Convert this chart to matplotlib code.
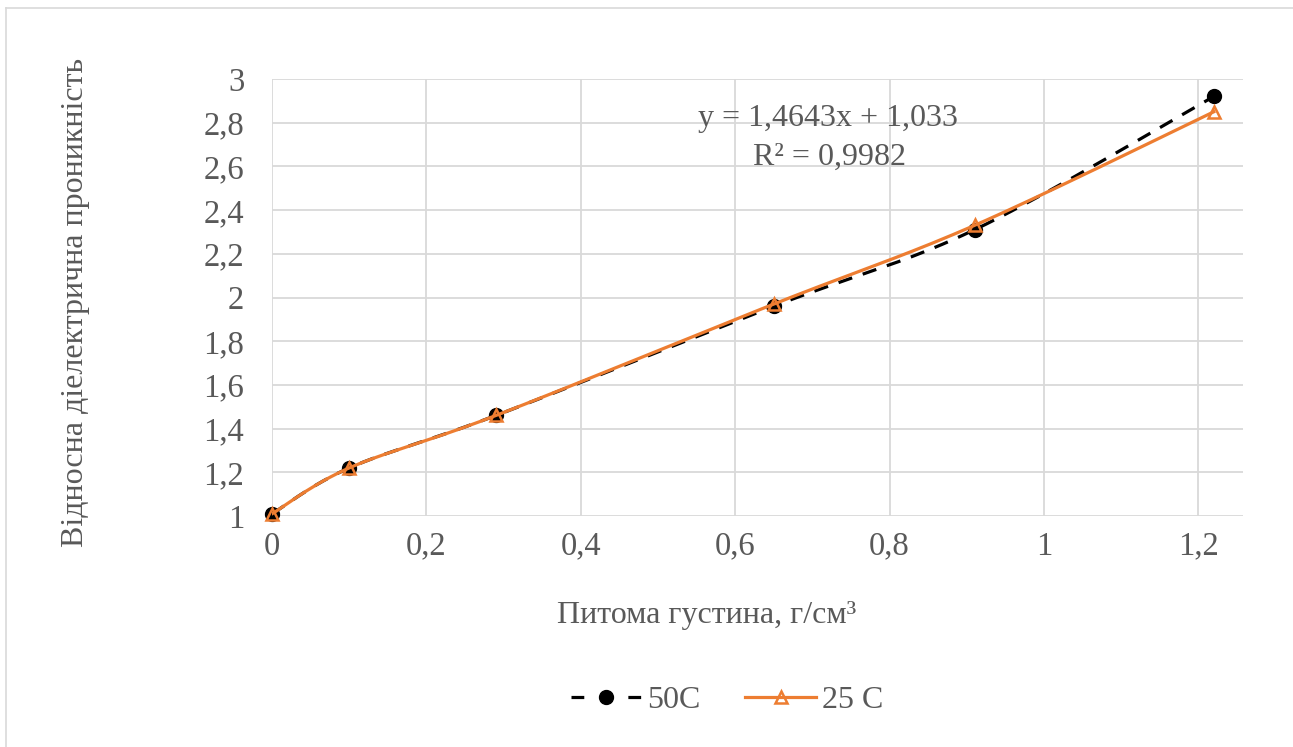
import numpy as np
import matplotlib
matplotlib.use('Agg')
from matplotlib import pyplot as plt
from matplotlib.lines import Line2D

# Питома густина, г/см3
x_vals = [0.0, 0.10, 0.29, 0.65, 0.91, 1.22]
# Відносна діелектрична проникність
eps_50 = [1.01, 1.22, 1.46, 1.96, 2.31, 2.92]
eps_25 = [1.01, 1.22, 1.46, 1.97, 2.33, 2.85]

x_ticks = [0, 0.2, 0.4, 0.6, 0.8, 1.0, 1.2]
y_ticks = [1, 1.2, 1.4, 1.6, 1.8, 2, 2.2, 2.4, 2.6, 2.8, 3]

equation = 'y = 1,4643x + 1,033'
r_squared = 'R² = 0,9982'

ORANGE = '#ED7D31'
TEXT = '#595959'
GRID = '#D9D9D9'

plt.rcParams['font.family'] = ['Liberation Serif', 'DejaVu Serif']


def smooth(xs, ys, n=40):
    # згладжена крива (кубічні Безьє, як у Excel)
    xs = np.asarray(xs, float)
    ys = np.asarray(ys, float)
    px = np.concatenate([[xs[0]], xs, [xs[-1]]])
    py = np.concatenate([[ys[0]], ys, [ys[-1]]])
    out_x, out_y = [], []
    t = np.linspace(0, 1, n)
    for i in range(1, len(px) - 2):
        p0 = np.array([px[i], py[i]])
        p3 = np.array([px[i + 1], py[i + 1]])
        c1 = p0 + (np.array([px[i + 1], py[i + 1]]) - np.array([px[i - 1], py[i - 1]])) / 6
        c2 = p3 - (np.array([px[i + 2], py[i + 2]]) - np.array([px[i], py[i]])) / 6
        b = ((1 - t) ** 3)[:, None] * p0 + (3 * (1 - t) ** 2 * t)[:, None] * c1 \
            + (3 * (1 - t) * t ** 2)[:, None] * c2 + (t ** 3)[:, None] * p3
        out_x.extend(b[:, 0])
        out_y.extend(b[:, 1])
    return out_x, out_y


def fmt(v):
    return ('%g' % v).replace('.', ',')


fig = plt.figure(figsize=(12.93, 7.47), dpi=100)
fig.add_artist(Line2D([6 / 1293, 6 / 1293], [0, 1 - 8 / 747], color=GRID, lw=1.2))
fig.add_artist(Line2D([6 / 1293, 1], [1 - 8 / 747, 1 - 8 / 747], color=GRID, lw=1.2))

ax = fig.add_axes([272 / 1293, 1 - 516 / 747, (1243 - 272) / 1293, (516 - 79) / 747])
ax.set_xlim(0, 1.2578)
ax.set_ylim(1, 3)

sx, sy = smooth(x_vals, eps_50)
ax.plot(sx, sy, color='black', lw=2.3, dashes=(4.5, 3.5), zorder=3)
ax.plot(x_vals, eps_50, 'o', color='black', ms=10, zorder=4, clip_on=False)

sx, sy = smooth(x_vals, eps_25)
ax.plot(sx, sy, color=ORANGE, lw=2.3, zorder=5)
ax.plot(x_vals, eps_25, '^', color=ORANGE, mfc='none', mew=1.8, ms=9, zorder=6, clip_on=False)

ax.set_xticks(x_ticks)
ax.set_yticks(y_ticks)
ax.set_xticklabels([fmt(v) for v in x_ticks])
ax.set_yticklabels([fmt(v) for v in y_ticks])
ax.tick_params(length=0, labelsize=23.5, colors=TEXT)
ax.tick_params(axis='x', pad=11)
ax.tick_params(axis='y', pad=20)
ax.grid(True, color=GRID, lw=1.3)
ax.set_axisbelow(True)
for s in ax.spines.values():
    s.set_visible(False)

ax.text(0.72, 2.82, equation, fontsize=23, color=TEXT, ha='center', va='center')
ax.text(0.722, 2.643, r_squared, fontsize=23, color=TEXT, ha='center', va='center')

fig.text(76 / 1293, 1 - 302 / 747, 'Відносна діелектрична проникність', rotation=90,
         fontsize=23, color=TEXT, ha='center', va='center')
fig.text(707 / 1293, 1 - 615 / 747, 'Питома густина, г/см³', fontsize=23,
         color=TEXT, ha='center', va='center')

# легенда: коротка риска - точка - риска
h1 = Line2D([], [], color='black', lw=2.3, dashes=(4.0, 13.8), marker='o', ms=10)
h2 = Line2D([], [], color=ORANGE, lw=2.3, marker='^', mfc='none', mew=1.8, ms=9)
fig.legend([h1, h2], ['50C', '25 C'], loc='center', bbox_to_anchor=(727 / 1293, 1 - 700 / 747),
           ncol=2, frameon=False, fontsize=23, labelcolor=TEXT, handlelength=2.2,
           columnspacing=1.4, handletextpad=0.2)

fig.savefig('out.png', dpi=100, facecolor='white')
